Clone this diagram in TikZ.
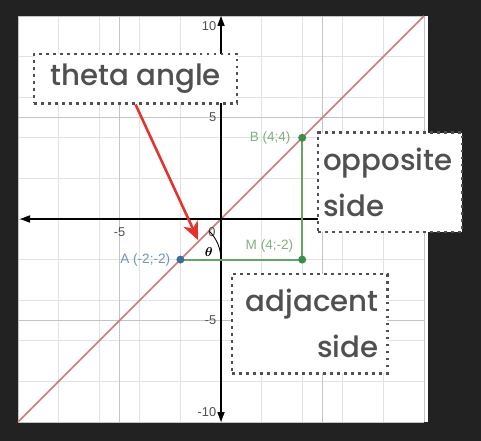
\documentclass[tikz,border=0pt]{standalone}
\usepackage{fontspec}
\usepackage{amsmath}
\setmainfont{Liberation Sans}
\newfontfamily\notefont{Poppins}[UprightFont=* Medium]
\usetikzlibrary{arrows.meta,positioning}

\definecolor{bgdark}{RGB}{34,34,34}
\definecolor{notec}{RGB}{80,80,80}
\definecolor{minorc}{RGB}{226,226,226}
\definecolor{majorc}{RGB}{196,196,196}
\definecolor{diagc}{RGB}{204,122,122}
\definecolor{sidec}{RGB}{100,165,100}
\definecolor{greendot}{RGB}{60,140,75}
\definecolor{greentxt}{RGB}{128,176,128}
\definecolor{bluedot}{RGB}{62,108,150}
\definecolor{bluetxt}{RGB}{112,146,192}
\definecolor{pointerc}{RGB}{230,50,45}
\definecolor{tickc}{RGB}{80,80,80}

\begin{document}
\begin{tikzpicture}[
  x=0.5cm,y=0.5cm,
  >=Stealth,
  note/.style={draw=notec,fill=white,line width=2pt,dash pattern=on 2pt off 2.9pt,
    text=notec,font=\notefont\fontsize{20.5}{32}\selectfont,inner sep=3pt},
  axis/.style={line width=0.9pt,black,-{Triangle[length=7pt,width=5pt]}},
  ticklab/.style={font=\fontsize{9}{10}\selectfont,text=tickc,inner sep=1pt},
  ptlab/.style={font=\fontsize{9.5}{10}\selectfont,inner sep=1pt},
  dotpt/.style={circle,fill=#1,inner sep=0pt,minimum size=5.6pt},
  sideln/.style={sidec,line width=1.5pt},
  pointer/.style={->,pointerc,line width=1.8pt,
    -{Stealth[length=13pt,width=11pt,inset=4pt]}}]

  % ---- background and plot area ----
  \fill[bgdark] (-10.887,-10.936) rectangle (12.808,10.788);
  \useasboundingbox (-10.887,-10.936) rectangle (12.808,10.788);
  \fill[white] (-10,-10) rectangle (10.2,10);

  % ---- grid ----
  \draw[minorc,line width=0.5pt] (-10,-10) grid (10,10);
  \draw[majorc,line width=0.6pt] (-10,-10) grid[step=5] (10,10);

  % ---- line y = x ----
  \draw[diagc,line width=1.1pt] (-10,-10) -- (10,10);

  % ---- axes ----
  \draw[axis] (10,0) -- (-9.9,0);
  \draw[axis] (0,0) -- (0,10);
  \draw[axis] (0,0) -- (0,-10);

  % ---- tick labels ----
  \node[ticklab,anchor=east] at (-0.15,9.5) {10};
  \node[ticklab,anchor=east] at (-0.15,5) {5};
  \node[ticklab,anchor=east] at (-0.15,-5) {-5};
  \node[ticklab,anchor=east] at (-0.15,-9.5) {-10};
  \node[ticklab] at (-5,-0.65) {-5};
  \node[ticklab] at (-0.45,-0.62) {0};

  % ---- angle at A ----
  \draw[black,line width=0.6pt] (0,-2) arc[start angle=0,end angle=45,radius=2];
  \node[font=\small] at (-0.6,-1.65) {$\boldsymbol{\theta}$};

  % ---- triangle A M B ----
  \coordinate (pa) at (-2,-2);
  \coordinate (pm) at (4,-2);
  \coordinate (pb) at (4,4);
  \draw[sideln] (pa) -- (pm) -- (pb);
  \node[dotpt=bluedot] (A) at (pa) {};
  \node[dotpt=greendot] (M) at (pm) {};
  \node[dotpt=greendot] (B) at (pb) {};
  \node[ptlab,text=bluetxt,left=3pt of A] {A (-2;-2)};
  \node[ptlab,text=greentxt,left=4pt of B] {B (4;4)};
  \node[ptlab,text=greentxt,above left=2pt and 3pt of M] {M (4;-2)};

  % ---- notes ----
  \node[note,minimum width=5cm,minimum height=1.21cm] (thetabox) at (-4.21,6.92)
    {theta angle};
  \node[note,minimum width=3.55cm,minimum height=2.44cm,text width=3.3cm,
    inner xsep=3.5pt,align=left] (oppbox) at (8.325,1.80) {opposite\\side};
  \node[note,minimum width=3.82cm,minimum height=2.44cm,text width=3.4cm,
    inner xsep=6pt,align=right] (adjbox) at (4.36,-5.15) {adjacent\\side};

  % ---- pointer to the angle ----
  \coordinate (thetatip) at (-1.12,-1.05);
  \draw[pointer] (thetabox.south) -- (thetatip);
\end{tikzpicture}
\end{document}
